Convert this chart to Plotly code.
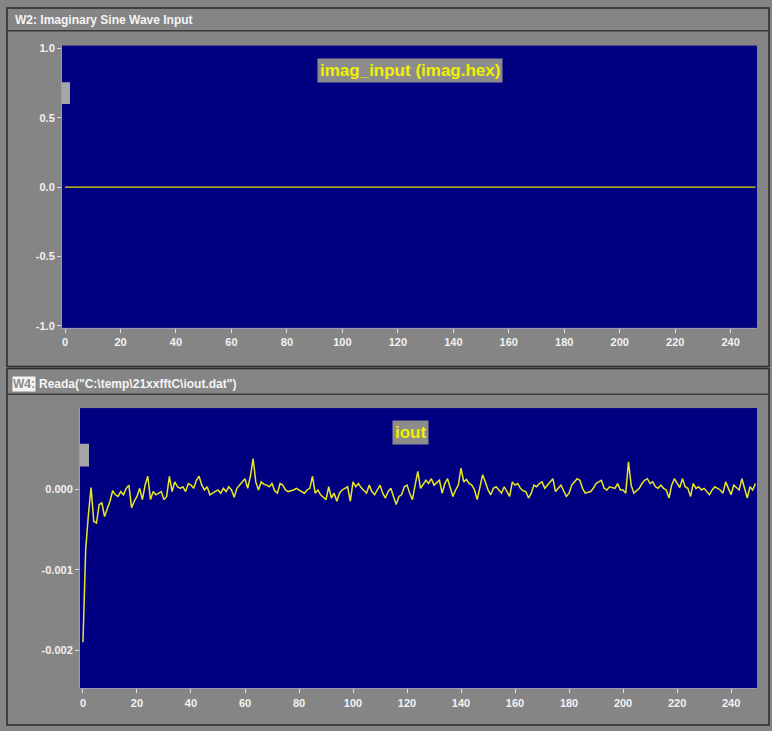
import plotly.graph_objects as go

W, H = 772, 731

# ---------------- data ----------------
sample_index = list(range(250))

imag_input = [
    0.0, 0.0, 0.0, 0.0, 0.0, 0.0, 0.0, 0.0, 0.0, 0.0, 0.0, 0.0, 0.0, 0.0, 0.0, 0.0, 0.0, 0.0, 0.0, 0.0, 0.0, 0.0, 0.0, 0.0, 0.0,
    0.0, 0.0, 0.0, 0.0, 0.0, 0.0, 0.0, 0.0, 0.0, 0.0, 0.0, 0.0, 0.0, 0.0, 0.0, 0.0, 0.0, 0.0, 0.0, 0.0, 0.0, 0.0, 0.0, 0.0, 0.0,
    0.0, 0.0, 0.0, 0.0, 0.0, 0.0, 0.0, 0.0, 0.0, 0.0, 0.0, 0.0, 0.0, 0.0, 0.0, 0.0, 0.0, 0.0, 0.0, 0.0, 0.0, 0.0, 0.0, 0.0, 0.0,
    0.0, 0.0, 0.0, 0.0, 0.0, 0.0, 0.0, 0.0, 0.0, 0.0, 0.0, 0.0, 0.0, 0.0, 0.0, 0.0, 0.0, 0.0, 0.0, 0.0, 0.0, 0.0, 0.0, 0.0, 0.0,
    0.0, 0.0, 0.0, 0.0, 0.0, 0.0, 0.0, 0.0, 0.0, 0.0, 0.0, 0.0, 0.0, 0.0, 0.0, 0.0, 0.0, 0.0, 0.0, 0.0, 0.0, 0.0, 0.0, 0.0, 0.0,
    0.0, 0.0, 0.0, 0.0, 0.0, 0.0, 0.0, 0.0, 0.0, 0.0, 0.0, 0.0, 0.0, 0.0, 0.0, 0.0, 0.0, 0.0, 0.0, 0.0, 0.0, 0.0, 0.0, 0.0, 0.0,
    0.0, 0.0, 0.0, 0.0, 0.0, 0.0, 0.0, 0.0, 0.0, 0.0, 0.0, 0.0, 0.0, 0.0, 0.0, 0.0, 0.0, 0.0, 0.0, 0.0, 0.0, 0.0, 0.0, 0.0, 0.0,
    0.0, 0.0, 0.0, 0.0, 0.0, 0.0, 0.0, 0.0, 0.0, 0.0, 0.0, 0.0, 0.0, 0.0, 0.0, 0.0, 0.0, 0.0, 0.0, 0.0, 0.0, 0.0, 0.0, 0.0, 0.0,
    0.0, 0.0, 0.0, 0.0, 0.0, 0.0, 0.0, 0.0, 0.0, 0.0, 0.0, 0.0, 0.0, 0.0, 0.0, 0.0, 0.0, 0.0, 0.0, 0.0, 0.0, 0.0, 0.0, 0.0, 0.0,
    0.0, 0.0, 0.0, 0.0, 0.0, 0.0, 0.0, 0.0, 0.0, 0.0, 0.0, 0.0, 0.0, 0.0, 0.0, 0.0, 0.0, 0.0, 0.0, 0.0, 0.0, 0.0, 0.0, 0.0, 0.0,
]

# iout values in units of 1e-4
iout_e4 = [
    -19.0, -7.5, -3.2, 0.2, -4.0, -4.2, -1.9, -1.7, -3.4, -2.5,
    -1.5, -0.2, -0.7, -0.9, -0.3, -0.7, 0.1, 0.5, -2.3, -1.5,
    -0.9, 0.1, -1.3, 0.5, 1.6, -1.3, -0.3, -0.7, -0.5, -0.3,
    -1.3, -0.9, 1.6, -0.3, 0.9, 0.3, 0.1, 0.3, -0.3, 0.7,
    0.5, 0.1, 1.1, 1.6, 0.5, -0.1, 0.3, -0.7, -0.5, -0.3,
    -0.1, -0.5, 0.1, -0.3, 0.3, -0.1, -1.0, 0.1, 0.5, 0.9,
    1.3, 0.1, 1.6, 3.8, 0.9, -0.1, 0.9, 0.6, 0.5, 0.3,
    0.7, -0.2, -0.5, 0.7, 0.5, -0.1, -0.3, -0.2, -0.1, 0.1,
    -0.1, -0.3, -0.5, -0.1, 0.1, 1.6, -0.5, -0.1, -0.7, -1.0,
    -1.3, 0.3, -1.1, -0.5, -1.5, -0.5, -0.1, 0.1, 0.3, -1.5,
    0.9, 0.3, 0.7, 0.2, -0.1, -0.5, 0.5, -0.3, -0.7, -0.1,
    0.5, -0.5, -1.1, -0.3, 0.1, -0.9, -1.9, -0.9, -0.7, 0.3,
    0.5, -0.5, -1.3, 0.5, 2.2, 0.1, 0.6, 1.1, 0.7, 1.3,
    0.5, 0.8, 1.1, -0.5, 0.7, 1.3, 0.2, -0.9, -0.1, 0.5,
    2.6, 0.9, 1.2, 0.7, 0.5, -0.1, -1.3, 0.5, 1.8, 0.9,
    -0.1, -0.7, 0.1, 0.3, -0.1, -0.5, 0.3, -0.3, -0.9, 0.9,
    0.5, 0.7, 0.1, -0.2, -0.3, -1.1, -0.5, 0.5, 0.3, 0.7,
    0.9, 0.1, 0.5, 0.9, 1.3, -0.3, 0.1, 0.5, -0.2, -0.9,
    -0.5, 0.5, 0.9, 1.3, 1.1, 0.1, -0.5, -0.4, -0.3, 0.1,
    0.7, 0.9, 1.1, 0.1, -0.1, 0.3, 0.2, 0.1, 0.7, -0.1,
    -0.1, -0.5, 3.4, 0.5, -0.5, -0.2, 0.1, 0.7, 1.1, 1.3,
    0.7, 0.9, 0.3, 0.1, 0.5, 0.1, -0.1, -1.1, 0.5, 1.3,
    0.7, 0.2, 1.3, 0.3, 0.1, -0.9, 0.7, 0.1, 0.3, -0.1,
    0.1, -0.3, -0.7, -0.1, 0.3, 0.1, -0.1, -0.5, 0.9, 0.1,
    -0.7, 0.5, 0.2, -0.1, 1.3, -0.1, -1.1, 0.3, -0.1, 0.7,
]
iout = [v * 1e-4 for v in iout_e4]

x_ticks = [0, 20, 40, 60, 80, 100, 120, 140, 160, 180, 200, 220, 240]
top_y_ticks = [1.0, 0.5, 0.0, -0.5, -1.0]
top_y_labels = ["1.0", "0.5", "0.0", "-0.5", "-1.0"]
bot_y_ticks = [0.0, -0.001, -0.002]
bot_y_labels = ["0.000", "-0.001", "-0.002"]

top_title = "W2: Imaginary Sine Wave Input"
bot_title_tag = "W4:"
bot_title = 'Reada("C:\\temp\\21xxfftC\\iout.dat")'
top_label = "imag_input (imag.hex)"
bot_label = "iout"

# ---------------- helpers ----------------
def px(x):
    return x / W

def py(y):
    return 1 - y / H

BG = "#858585"
NAVY = "#000080"
TICKFONT = dict(family="Liberation Sans", size=11, color="#f2f2f2", weight="bold")

fig = go.Figure()

fig.add_trace(go.Scatter(
    x=sample_index, y=imag_input, mode="lines",
    line=dict(color="#e0e000", width=1.2), xaxis="x", yaxis="y",
    hoverinfo="skip", showlegend=False,
))
fig.add_trace(go.Scatter(
    x=sample_index, y=iout, mode="lines",
    line=dict(color="#e8e820", width=1.5), xaxis="x2", yaxis="y2",
    hoverinfo="skip", showlegend=False,
))

axis_common = dict(
    showgrid=False, zeroline=False, ticks="outside", ticklen=4,
    tickcolor="#dddddd", tickwidth=1, tickfont=TICKFONT,
    showline=True, linecolor="#9a9ab8", linewidth=1, mirror=False,
)

fig.update_layout(
    width=W, height=H,
    margin=dict(l=0, r=0, t=0, b=0),
    paper_bgcolor=BG, plot_bgcolor=NAVY,
    showlegend=False,
    xaxis=dict(domain=[px(62), px(757)], anchor="y", range=[-1.1, 249.5],
               tickvals=x_ticks, ticktext=[str(t) for t in x_ticks], **axis_common),
    yaxis=dict(domain=[py(328), py(43)], anchor="x", range=[-1.014, 1.021],
               tickvals=top_y_ticks, ticktext=top_y_labels, **axis_common),
    xaxis2=dict(domain=[px(80), px(757)], anchor="y2", range=[-1.1, 249.6],
                tickvals=x_ticks, ticktext=[str(t) for t in x_ticks], **axis_common),
    yaxis2=dict(domain=[py(692), py(409)], anchor="x2", range=[-0.002472, 0.001006],
                tickvals=bot_y_ticks, ticktext=bot_y_labels, **axis_common),
)

shapes = []
# window frames
for (x0, y0, x1, y1) in [(7, 5, 769, 367), (7, 369, 769, 729)]:
    shapes.append(dict(type="rect", xref="paper", yref="paper",
                       x0=px(x0), y0=py(y0), x1=px(x1), y1=py(y1),
                       line=dict(color="#2a2a2a", width=1.5)))
# title separators
for y in (28, 395):
    shapes.append(dict(type="line", xref="paper", yref="paper",
                       x0=px(7), x1=px(769), y0=py(y), y1=py(y),
                       line=dict(color="#3a3a3a", width=1.5)))
# small cursor markers
for (x0, y0, x1, y1) in [(62, 80, 70, 102), (80, 445, 89, 468)]:
    shapes.append(dict(type="rect", xref="paper", yref="paper",
                       x0=px(x0), y0=py(y0), x1=px(x1), y1=py(y1),
                       fillcolor="#a6a6a6", line=dict(width=0)))
fig.update_layout(shapes=shapes)

annotations = [
    dict(text=top_title, xref="paper", yref="paper", x=px(13), y=py(17),
         xanchor="left", yanchor="middle", showarrow=False,
         font=dict(family="Liberation Sans", size=12, color="#f4f4f4", weight="bold")),
    dict(text=bot_title_tag, xref="paper", yref="paper", x=px(12), y=py(385),
         xanchor="left", yanchor="middle", showarrow=False, bgcolor="#f4f4f4",
         borderpad=0,
         font=dict(family="Liberation Sans", size=12, color="#8a8a8a", weight="bold")),
    dict(text=bot_title, xref="paper", yref="paper", x=px(37), y=py(385),
         xanchor="left", yanchor="middle", showarrow=False,
         font=dict(family="Liberation Sans", size=12, color="#f4f4f4", weight="bold")),
    dict(text=top_label, xref="paper", yref="paper", x=px(410), y=py(68),
         xanchor="center", yanchor="middle", showarrow=False, bgcolor="#8c8c8c",
         borderpad=2,
         font=dict(family="Liberation Sans", size=17, color="#f0f000", weight="bold")),
    dict(text=bot_label, xref="paper", yref="paper", x=px(410), y=py(434),
         xanchor="center", yanchor="middle", showarrow=False, bgcolor="#8c8c8c",
         borderpad=2,
         font=dict(family="Liberation Sans", size=17, color="#f0f000", weight="bold")),
]
fig.update_layout(annotations=annotations)

fig.write_html("out.html", config={"displayModeBar": False},
               post_script="document.body.style.margin='0';")
